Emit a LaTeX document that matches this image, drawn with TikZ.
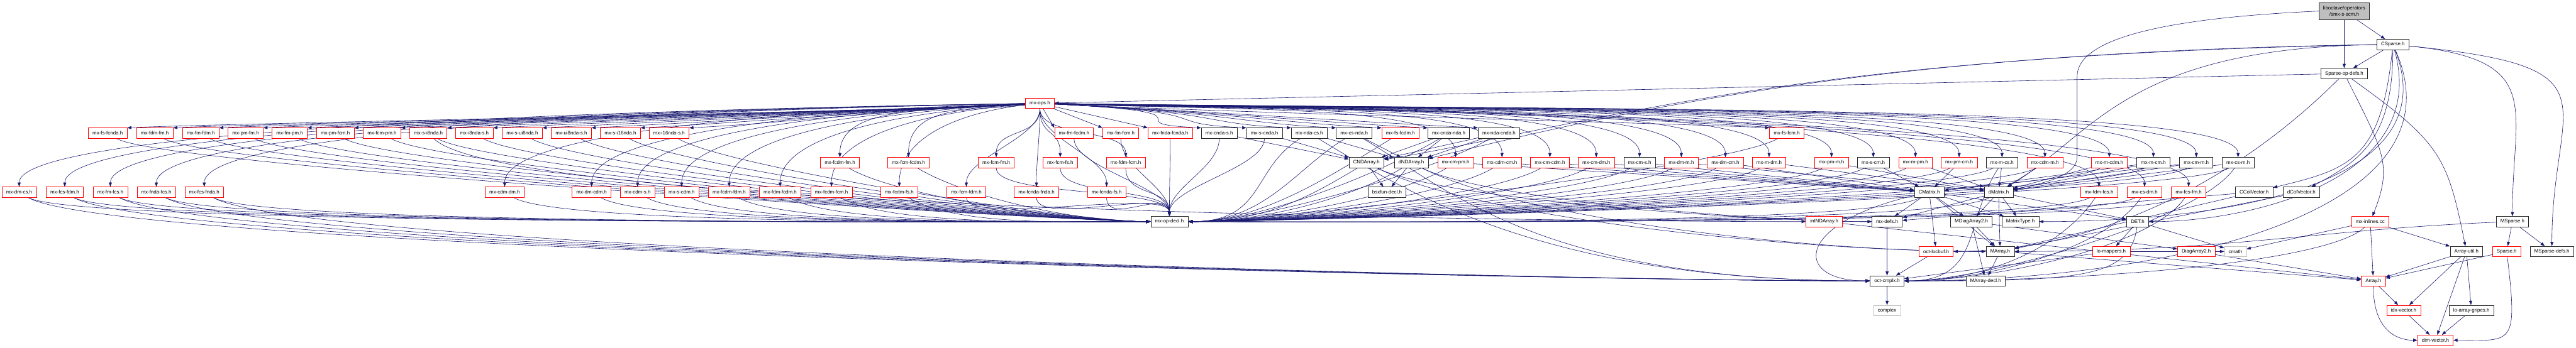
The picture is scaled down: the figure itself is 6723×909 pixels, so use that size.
\documentclass[tikz,border=0pt]{standalone}
\usepackage{fontspec}
\setmainfont{Liberation Sans}
\usetikzlibrary{arrows.meta,calc,backgrounds}
\definecolor{edgeblue}{HTML}{191970}
\definecolor{grey75}{HTML}{BFBFBF}
\begin{document}
\begin{tikzpicture}[x=1pt,y=-1pt,
  file/.style={draw,rectangle,fill=white,line width=1pt,minimum height=27pt,inner xsep=11pt,inner ysep=0pt,font=\fontsize{13}{17}\selectfont},
  trunc/.style={file,draw=red},
  full/.style={file,draw=black!85},
  sys/.style={file,draw=grey75},
  dep/.style={draw=edgeblue,line width=1pt,-{Triangle[length=11pt,width=8pt]}}]
\useasboundingbox (0,0) rectangle (6723,909);
\node[file,fill=grey75,draw=black!85,align=center,minimum height=44pt] (root) at (6118,29) {liboctave/operators\\/smx-s-scm.h};
\foreach \n/\x/\y/\t in {ops/2714/270/mx-ops.h,
  fsfcnda/281/348/mx-fs-fcnda.h, fdmfm/404/348/mx-fdm-fm.h, fmfdm/524/348/mx-fm-fdm.h,
  pmfm/641/348/mx-pm-fm.h, fmpm/756/348/mx-fm-pm.h, pmfcm/875/348/mx-pm-fcm.h,
  fcmpm/997/348/mx-fcm-pm.h, si8/1118/348/mx-s-i8nda.h, i8s/1238/348/mx-i8nda-s.h,
  sui8/1363/348/mx-s-ui8nda.h, ui8s/1491/348/mx-ui8nda-s.h, si16/1619/348/mx-s-i16nda.h,
  i16s/1746/348/mx-i16nda-s.h, fmfcdm/2803/348/mx-fm-fcdm.h, fmfcm/2925/348/mx-fm-fcm.h,
  fndafcnda/3054/348/mx-fnda-fcnda.h, fsfcdm/3655/348/mx-fs-fcdm.h, fsfcm/4663/348/mx-fs-fcm.h,
  fcdmfm/2192/425/mx-fcdm-fm.h, fcmfcdm/2371/425/mx-fcm-fcdm.h, fcmfm/2600/425/mx-fcm-fm.h,
  fcmfs/2767/425/mx-fcm-fs.h, fdmfcm/2938/425/mx-fdm-fcm.h, cmpm/3799/425/mx-cm-pm.h,
  cdmcm/3920/425/mx-cdm-cm.h, cmcdm/4045/425/mx-cm-cdm.h, cmdm/4166/425/mx-cm-dm.h,
  dmm/4388/425/mx-dm-m.h, dmcm/4503/425/mx-dm-cm.h, mdm/4617/425/mx-m-dm.h,
  pmm/4780/425/mx-pm-m.h, mpm/4999/425/mx-m-pm.h, pmcm/5113/425/mx-pm-cm.h,
  cdmm/5337/425/mx-cdm-m.h, mcdm/5505/425/mx-m-cdm.h,
  dmcs/50/502/mx-dm-cs.h, fcsfdm/169/502/mx-fcs-fdm.h, fmfcs/288/502/mx-fm-fcs.h,
  fndafcs/408/502/mx-fnda-fcs.h, fcsfnda/533/502/mx-fcs-fnda.h, cdmdm/1317/502/mx-cdm-dm.h,
  dmcdm/1544/502/mx-dm-cdm.h, cdms/1664/502/mx-cdm-s.h, scdm/1779/502/mx-s-cdm.h,
  fcdmfdm/1903/502/mx-fcdm-fdm.h, fdmfcdm/2036/502/mx-fdm-fcdm.h, fcdmfcm/2170/502/mx-fcdm-fcm.h,
  fcdmfs/2347/502/mx-fcdm-fs.h, fcmfdm/2522/502/mx-fcm-fdm.h, fcndafnda/2705/502/mx-fcnda-fnda.h,
  fcndafs/2888/502/mx-fcnda-fs.h, fdmfcs/5478/502/mx-fdm-fcs.h, csdm/5597/502/mx-cs-dm.h,
  fcsfm/5712/502/mx-fcs-fm.h,
  intnda/4761/579/intNDArray.h, inlines/6186/579/mx-inlines.cc, locbuf/5053/657/oct-locbuf.h,
  mappers/5510/657/lo-mappers.h, diagtwo/5732/657/DiagArray2.h, sparse/6542/657/Sparse.h,
  array/6194/734/Array.h, idxvec/6273/811/idx-vector.h, dimvec/6356/889/dim-vector.h}
  \node[trunc] (\n) at (\x,\y) {\t};
\foreach \n/\x/\y/\t in {spdefs/6118/192/Sparse-op-defs.h, csparse/6245/116/CSparse.h,
  cndas/3182/348/mx-cnda-s.h, scnda/3300/348/mx-s-cnda.h, ndacs/3417/348/mx-nda-cs.h,
  csnda/3534/348/mx-cs-nda.h, cndanda/3781/348/mx-cnda-nda.h, ndacnda/3912/348/mx-nda-cnda.h,
  cnda/3566/425/CNDArray.h, dnda/3683/425/dNDArray.h, cms/4279/425/mx-cm-s.h,
  scm/4889/425/mx-s-cm.h, mcs/5225/425/mx-m-cs.h, mcm/5620/425/mx-m-cm.h,
  cmm/5732/425/mx-cm-m.h, csm/5841/425/mx-cs-m.h,
  bsx/3620/502/bsxfun-decl.h, cmat/5035/502/CMatrix.h, dmat/5216/502/dMatrix.h,
  ccol/5883/502/CColVector.h, dcol/6006/502/dColVector.h,
  decl/3052/579/mx-op-decl.h, defs/4925/579/mx-defs.h, mdiag/5145/579/MDiagArray2.h,
  mtype/5273/579/MatrixType.h, det/5579/579/DET.h, msparse/6557/579/MSparse.h,
  marray/5220/657/MArray.h, autil/6437/657/Array-util.h, msdefs/6660/657/MSparse-defs.h,
  madecl/5182/734/MArray-decl.h, cmplx/4925/734/oct-cmplx.h, gripes/6450/811/lo-array-gripes.h}
  \node[full] (\n) at (\x,\y) {\t};
\node[sys] (complex) at (4925,811) {complex};
\node[sys] (cmath) at (5834,657) {cmath};
\begin{pgfonlayer}{background}
\draw[dep] (root) -- (spdefs);
\draw[dep] (root) -- (csparse);
\draw[dep] (root.west) .. controls (5700,45) and (5421,90) .. (5421,200) -- (5421,410) .. controls (5421,460) and (5330,480) .. (dmat);
\draw[dep] (csparse) -- (spdefs);
\draw[dep] (csparse) .. controls +(-700,10) and +(250,-150) .. (dmat);
\draw[dep] (csparse) .. controls +(-1400,20) and +(500,-120) .. (dnda);
\draw[dep] (csparse) .. controls +(-1600,30) and +(600,-100) .. (cnda);
\draw[dep] (csparse) .. controls +(0,250) and +(150,-80) .. (dcol);
\draw[dep] (csparse) .. controls +(-30,300) and +(250,-60) .. (ccol);
\draw[dep] (csparse) .. controls +(100,350) and +(300,0) .. (det);
\draw[dep] (csparse) .. controls +(150,380) and +(500,0) .. (mtype);
\draw[dep] (csparse) .. controls +(200,450) and +(700,0) .. (cmplx);
\draw[dep] (csparse) .. controls +(400,40) and +(0,-300) .. (msparse);
\draw[dep] (csparse) .. controls +(600,60) and +(0,-400) .. (msdefs);
\draw[dep] (spdefs) -- (ops);
\draw[dep] (spdefs) .. controls +(250,180) and +(-50,-250) .. (autil);
\draw[dep] (spdefs) .. controls +(100,200) and +(60,-150) .. (inlines);
\draw[dep] (spdefs) .. controls +(-300,300) and +(400,0) .. (locbuf);
\draw[dep] (msparse) .. controls +(-500,20) and +(600,0) .. (marray);
\draw[dep] (msparse) -- (sparse);
\draw[dep] (msparse) -- (msdefs);
\draw[dep] (sparse) -- (array);
\draw[dep] (sparse) .. controls +(30,250) and +(200,0) .. (dimvec);
\draw[dep] (autil) -- (array);
\draw[dep] (autil) -- (idxvec);
\draw[dep] (autil) -- (dimvec);
\draw[dep] (autil) -- (gripes);
\draw[dep] (array) -- (idxvec);
\draw[dep] (array) .. controls +(0,130) and +(-100,0) .. (dimvec);
\draw[dep] (idxvec) -- (dimvec);
\draw[dep] (gripes) -- (dimvec);
\draw[dep] (inlines) -- (array);
\draw[dep] (inlines) -- (autil);
\draw[dep] (inlines) .. controls +(-100,100) and +(600,0) .. (cmplx);
\draw[dep] (inlines) -- (cmath);
\foreach \n in {defs,locbuf,marray,mdiag,mtype,det}
  \draw[dep] (cmat) -- (\n);
\draw[dep] (cmat) .. controls +(-350,80) and +(-250,0) .. (cmplx);
\foreach \n in {mdiag,mtype,marray,det,defs}
  \draw[dep] (dmat) -- (\n);
\foreach \n in {dnda,cnda} {
  \draw[dep] (\n) -- (bsx);
  \draw[dep] (\n) .. controls +(300,150) and +(-500,0) .. (marray);
  \draw[dep] (\n) .. controls +(200,100) and +(-300,0) .. (defs);
}
\foreach \a/\b in {mdiag/diagtwo,mdiag/marray,mdiag/madecl,marray/madecl,marray/array,
  det/mappers,det/cmath,mappers/cmplx,mappers/cmath,defs/cmplx,cmplx/complex,locbuf/cmplx,
  diagtwo/array,ccol/marray,ccol/defs,dcol/marray,intnda/array}
  \draw[dep] (\a) -- (\b);
\draw[dep] (det) .. controls +(-20,150) and +(500,0) .. (cmplx);
\foreach \n in {fsfcnda,fdmfm,fmfdm,pmfm,fmpm,pmfcm,fcmpm,si8,i8s,sui8,ui8s,si16,i16s}
  \draw[dep] (ops) .. controls +(-500,25) and +(250,-12) .. (\n.north east);
\foreach \n in {cndas,scnda,ndacs,csnda,fsfcdm,cndanda,ndacnda,fsfcm}
  \draw[dep] (ops) .. controls +(500,25) and +(-250,-12) .. (\n.north west);
\foreach \n in {fmfcdm,fmfcm,fndafcnda}
  \draw[dep] (ops) -- (\n.north west);
\foreach \n in {fcmfdm,fcmfm,fcndafnda,fcmfs,fcndafs,fdmfcm}
  \draw[dep] (ops) .. controls +(0,90) and +(0,-90) .. (\n);
\foreach \n in {dmcs,fcsfdm,fmfcs,fndafcs,fcsfnda,cdmdm,dmcdm,cdms,scdm,fcdmfdm,fdmfcdm,fcdmfcm,
  fcdmfm,fcmfcdm,fcdmfs,cmpm,cdmcm,cmcdm,cmdm,cms,dmm,dmcm,mdm,pmm,scm,mpm,pmcm,mcs,cdmm,mcdm,
  mcm,cmm,csm,fdmfcs,csdm,fcsfm}
  \draw[dep] (ops) .. controls ($(ops)!.5!(\n |- ops)+(0,20)$) and ($(\n.north)+(0,-140)$) .. (\n.north);
\foreach \n in {fsfcnda,fdmfm,fmfdm,pmfm,fmpm,pmfcm,fcmpm,si8,i8s,sui8,ui8s,si16,i16s,dmcs,fcsfdm,
  fmfcs,fndafcs,fcsfnda,cdmdm,dmcdm,cdms,scdm,fcdmfdm,fdmfcdm,fcdmfcm,fcdmfm,fcmfcdm,fcdmfs}
  \draw[dep] (\n) .. controls +(150,90) and +(-250,0) .. (decl);
\foreach \n in {fcndafs,fdmfcm,fmfcm,fndafcnda,cndas,scnda,fcmfs,fcndafnda,fmfcdm,fcmfm,fcmfdm}
  \draw[dep] (\n) .. controls +(0,90) and +(0,-90) .. (decl);
\foreach \n in {ndacs,csnda,fsfcdm,cndanda,ndacnda,fsfcm,cmpm,cdmcm,cmcdm,cmdm,cms,dmm,dmcm,mdm,
  pmm,scm,mpm,pmcm,mcs,cdmm,mcdm,mcm,cmm,csm,fdmfcs,csdm,fcsfm,cnda,dnda,cmat,dmat}
  \draw[dep] (\n) .. controls +(-150,90) and +(250,0) .. (decl);
\foreach \n in {dmcs,fcsfdm,fmfcs,fndafcs,fcsfnda,ndacs,csnda}
  \draw[dep] (\n) .. controls +(250,150) and +(-900,0) .. (cmplx);
\foreach \n in {mcs,csm,fdmfcs,csdm,fcsfm}
  \draw[dep] (\n) .. controls +(-100,150) and +(250,0) .. (cmplx);
\foreach \n in {cmpm,cdmcm,cmcdm,cmdm,cms,dmcm,scm,pmcm,mcm,cmm}
  \draw[dep] (\n) -- (cmat);
\foreach \n in {dmm,mdm,pmm,mpm,mcs,cdmm,mcdm,mcm,cmm,csm}
  \draw[dep] (\n) -- (dmat);
\foreach \n in {cndas,scnda,cndanda,ndacnda}
  \draw[dep] (\n) -- (cnda);
\foreach \n in {ndacs,csnda,cndanda,ndacnda}
  \draw[dep] (\n) -- (dnda);
\draw[dep] (si8) .. controls +(200,200) and +(-800,0) .. (intnda);
\end{pgfonlayer}
\end{tikzpicture}
\end{document}
